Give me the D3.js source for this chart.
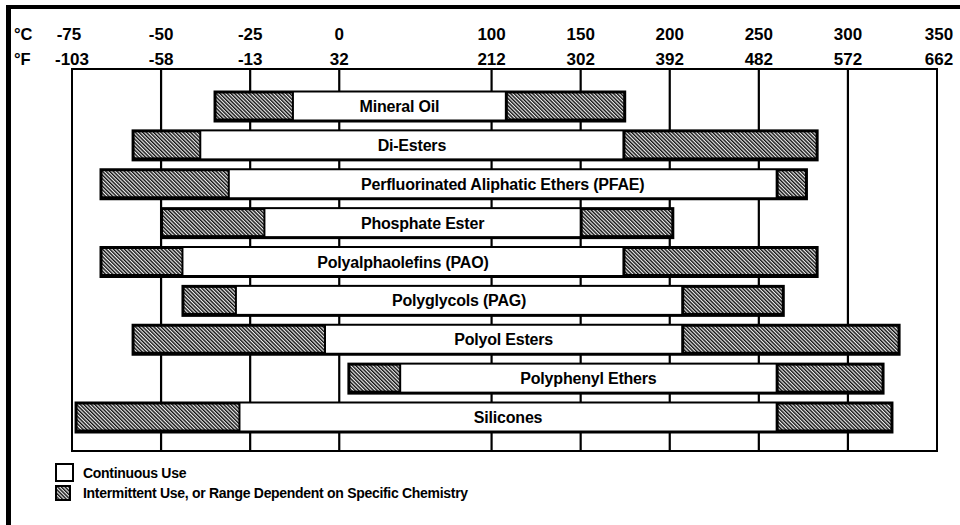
<!DOCTYPE html>
<html>
<head>
<meta charset="utf-8">
<script src="https://cdn.jsdelivr.net/npm/d3@7"></script>
<style>
  body { margin: 0; background: #fff; }
  text { font-family: "Liberation Sans", Arial, sans-serif; font-weight: bold; fill: #000; }
</style>
</head>
<body>
<div id="chart"></div>
<script>
// temperature ticks, top axis
var tempC = [-75, -50, -25, 0, 100, 150, 200, 250, 300, 350];
var tempF = [-103, -58, -13, 32, 212, 302, 392, 482, 572, 662];

var fluids = [
  "Mineral Oil",
  "Di-Esters",
  "Perfluorinated Aliphatic Ethers (PFAE)",
  "Phosphate Ester",
  "Polyalphaolefins (PAO)",
  "Polyglycols (PAG)",
  "Polyol Esters",
  "Polyphenyl Ethers",
  "Silicones"
];

// ranges in °C
var intermittentLow  = [-35, -58, -67, -50, -67, -44, -58,   6, -74];
var continuousLow    = [-13, -39, -31, -21, -44, -29,  -4,  40, -28];
var continuousHigh   = [108, 174, 260, 150, 174, 207, 207, 260, 260];
var intermittentHigh = [175, 283, 277, 202, 283, 264, 329, 320, 325];

var legendLabels = ["Continuous Use", "Intermittent Use, or Range Dependent on Specific Chemistry"];

var svgWidth = 960;
var svgHeight = 525;

var plot = { left: 72, right: 937, top: 69, bottom: 451 };

var svg = d3.select("#chart")
  .append("svg")
  .attr("width", svgWidth)
  .attr("height", svgHeight);

var defs = svg.append("defs");
var pattern = defs.append("pattern")
  .attr("id", "hatch")
  .attr("patternUnits", "userSpaceOnUse")
  .attr("width", 2.6)
  .attr("height", 2.6)
  .attr("patternTransform", "rotate(-45)");
pattern.append("rect")
  .attr("width", 2.6).attr("height", 2.6).attr("fill", "#eeeeee");
pattern.append("rect")
  .attr("width", 1.4).attr("height", 2.6).attr("fill", "#111");

// the scale is broken between 0 and 100 °C, so map tick by tick
var step = (plot.right - plot.left) / 9.71;
var slots = [0, 1, 2, 3, 4.71, 5.71, 6.71, 7.71, 8.71, 9.71];
var xScale = d3.scaleLinear()
  .domain(tempC)
  .range(slots.map(s => plot.left + s * step));

var yScale = d3.scalePoint()
  .domain(fluids)
  .range([plot.top + 37, plot.bottom - 34]);

var barHeight = 29;

// page frame (top and left edges only)
svg.append("rect").attr("x", 6).attr("y", 5).attr("width", svgWidth - 6).attr("height", 4).attr("fill", "#000");
svg.append("rect").attr("x", 6).attr("y", 5).attr("width", 5).attr("height", svgHeight - 5).attr("fill", "#000");

// top axis labels
svg.append("text").attr("x", 14).attr("y", 40).style("font-size", "16.5px").text("\u00B0C");
svg.append("text").attr("x", 14).attr("y", 65).style("font-size", "16.5px").text("\u00B0F");

svg.selectAll(".tickC")
  .data(tempC)
  .enter()
  .append("text")
  .attr("class", "tickC")
  .attr("x", d => xScale(d) + (d === -75 ? -3 : 0) + (d === 350 ? 2 : 0))
  .attr("y", 40)
  .attr("text-anchor", "middle")
  .style("font-size", "17px")
  .text(d => d);

svg.selectAll(".tickF")
  .data(tempF)
  .enter()
  .append("text")
  .attr("class", "tickF")
  .attr("x", (d, i) => xScale(tempC[i]) + (i === tempC.length - 1 ? 2 : 0))
  .attr("y", 65)
  .attr("text-anchor", "middle")
  .style("font-size", "17px")
  .text(d => d);

// grid
svg.selectAll(".grid")
  .data(tempC.slice(1, -1))
  .enter()
  .append("line")
  .attr("class", "grid")
  .attr("x1", d => xScale(d))
  .attr("x2", d => xScale(d))
  .attr("y1", plot.top)
  .attr("y2", plot.bottom)
  .attr("stroke", "#000")
  .attr("stroke-width", 2.2);

svg.append("rect")
  .attr("x", plot.left)
  .attr("y", plot.top)
  .attr("width", plot.right - plot.left)
  .attr("height", plot.bottom - plot.top)
  .attr("fill", "none")
  .attr("stroke", "#000")
  .attr("stroke-width", 2);

// bars
var rows = svg.selectAll(".row")
  .data(fluids)
  .enter()
  .append("g")
  .attr("class", "row")
  .attr("transform", d => `translate(0, ${yScale(d) - barHeight / 2})`);

rows.append("rect")
  .attr("x", (d, i) => xScale(intermittentLow[i]) - 1)
  .attr("y", -1)
  .attr("width", (d, i) => xScale(intermittentHigh[i]) - xScale(intermittentLow[i]) + 2)
  .attr("height", barHeight + 3)
  .attr("fill", "#000");

rows.append("rect")
  .attr("x", (d, i) => xScale(intermittentLow[i]) + 2)
  .attr("y", 2)
  .attr("width", (d, i) => Math.max(0, xScale(continuousLow[i]) - xScale(intermittentLow[i]) - 3))
  .attr("height", barHeight - 4)
  .attr("fill", "url(#hatch)");

rows.append("rect")
  .attr("x", (d, i) => xScale(continuousHigh[i]) + 2)
  .attr("y", 2)
  .attr("width", (d, i) => Math.max(0, xScale(intermittentHigh[i]) - xScale(continuousHigh[i]) - 4))
  .attr("height", barHeight - 4)
  .attr("fill", "url(#hatch)");

rows.append("rect")
  .attr("x", (d, i) => xScale(continuousLow[i]) + 1)
  .attr("y", 1)
  .attr("width", (d, i) => xScale(continuousHigh[i]) - xScale(continuousLow[i]) - 2)
  .attr("height", barHeight - 2)
  .attr("fill", "#fff");

rows.append("text")
  .attr("x", (d, i) => (xScale(continuousLow[i]) + xScale(continuousHigh[i])) / 2)
  .attr("y", barHeight / 2 + 6)
  .attr("text-anchor", "middle")
  .style("font-size", "16px")
  .style("letter-spacing", "-0.2px")
  .text(d => d);

// legend
var legend = svg.append("g");

legend.append("rect")
  .attr("x", 56).attr("y", 464)
  .attr("width", 17).attr("height", 17)
  .attr("fill", "#fff")
  .attr("stroke", "#000")
  .attr("stroke-width", 2);

legend.append("rect")
  .attr("x", 55).attr("y", 485)
  .attr("width", 16).attr("height", 16)
  .attr("fill", "#000");
legend.append("rect")
  .attr("x", 57).attr("y", 487)
  .attr("width", 12).attr("height", 12)
  .attr("fill", "url(#hatch)");

legend.selectAll(".legendText")
  .data(legendLabels)
  .enter()
  .append("text")
  .attr("class", "legendText")
  .attr("x", 83)
  .attr("y", (d, i) => 478 + i * 20)
  .style("font-size", "14px")
  .style("letter-spacing", "-0.3px")
  .text(d => d);
</script>
</body>
</html>
